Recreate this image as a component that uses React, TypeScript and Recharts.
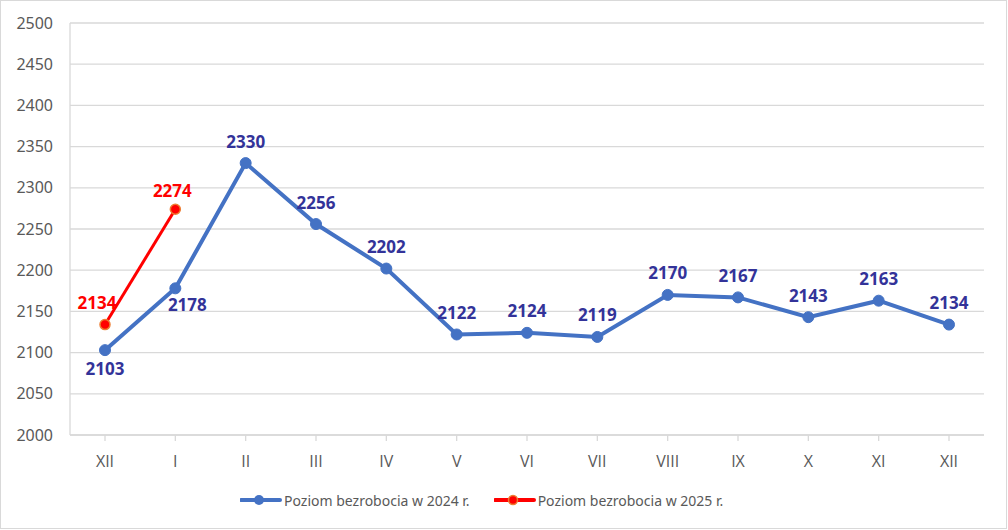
import React from 'react';
import { LineChart, Line, XAxis, YAxis, CartesianGrid } from 'recharts';

const months = ['XII', 'I', 'II', 'III', 'IV', 'V', 'VI', 'VII', 'VIII', 'IX', 'X', 'XI', 'XII'];
const level2024 = [2103, 2178, 2330, 2256, 2202, 2122, 2124, 2119, 2170, 2167, 2143, 2163, 2134];
const level2025: (number | null)[] = [2134, 2274, null, null, null, null, null, null, null, null, null, null, null];
const yTicks = [2000, 2050, 2100, 2150, 2200, 2250, 2300, 2350, 2400, 2450, 2500];
const seriesNames = ['Poziom bezrobocia w 2024 r.', 'Poziom bezrobocia w 2025 r.'];

const data = months.map((m, i) => ({ idx: i, month: m, a: level2024[i], b: level2025[i] }));

const FONT = '"Noto Sans", "Open Sans", sans-serif';
const BLUE = '#4472C4';
const RED = '#FF0000';
const LABEL_BLUE = '#333399';

const BlueLabel = (props: any) => {
  const { x, y, value, index } = props;
  if (value == null) return null;
  let dx = 0;
  let dy = -22;
  if (index === 0) { dx = 0; dy = 18; }
  if (index === 1) { dx = 12; dy = 16; }
  return (
    <text x={x + dx} y={y + dy} textAnchor="middle" dominantBaseline="central"
      fill={LABEL_BLUE} fontFamily={FONT} fontSize={17} fontWeight="bold">{value}</text>
  );
};

const RedLabel = (props: any) => {
  const { x, y, value, index } = props;
  if (value == null) return null;
  let dx = -3;
  let dy = -19;
  if (index === 0) { dx = -8; dy = -22; }
  return (
    <text x={x + dx} y={y + dy} textAnchor="middle" dominantBaseline="central"
      fill={RED} fontFamily={FONT} fontSize={17} fontWeight="bold">{value}</text>
  );
};

export default function App() {
  return (
    <div style={{ position: 'absolute', left: 0, top: 0, width: 1008, height: 530, background: '#fff' }}>
      <div style={{ position: 'absolute', left: 0, top: 0, width: 1005, height: 527, border: '1px solid #d9d9d9' }} />
      <div style={{ position: 'absolute', left: 0, top: 0 }}>
        <LineChart width={1008} height={530} data={data} margin={{ top: 23, right: 24, bottom: 65, left: 0 }}>
          <CartesianGrid vertical={false} stroke="#d9d9d9" strokeWidth={1.3} />
          <XAxis dataKey="idx" type="category" padding={{ left: 35, right: 35 }} height={30}
            tickFormatter={(v: any) => months[v as number]}
            axisLine={{ stroke: '#d9d9d9', strokeWidth: 1.3 }}
            tickLine={{ stroke: '#d9d9d9', strokeWidth: 1.3 }} tickSize={6} tickMargin={15}
            tick={{ fill: '#595959', fontSize: 16, fontFamily: '"Open Sans", sans-serif' }} interval={0} />
          <YAxis domain={[2000, 2500]} ticks={yTicks} width={70}
            axisLine={{ stroke: '#d9d9d9', strokeWidth: 1.3 }} tickLine={false} tickSize={0} tickMargin={17}
            tick={{ fill: '#595959', fontSize: 16, fontFamily: FONT }} />
          <Line dataKey="a" stroke={BLUE} strokeWidth={4} isAnimationActive={false}
            dot={{ r: 5.5, fill: BLUE, stroke: BLUE, strokeWidth: 1 }} activeDot={false}
            label={<BlueLabel />} />
          <Line dataKey="b" stroke={RED} strokeWidth={3} isAnimationActive={false}
            dot={{ r: 5, fill: RED, stroke: '#ED7D31', strokeWidth: 1.5 }} activeDot={false}
            label={<RedLabel />} />
        </LineChart>
      </div>
      <div style={{ position: 'absolute', left: 240, top: 489, display: 'flex', alignItems: 'center',
        fontFamily: FONT, fontSize: 14, color: '#595959', whiteSpace: 'nowrap' }}>
        <svg width={42} height={22} style={{ marginRight: 2 }}>
          <line x1={1} y1={11} x2={40} y2={11} stroke={BLUE} strokeWidth={4} strokeLinecap="round" />
          <circle cx={19} cy={11} r={5} fill={BLUE} />
        </svg>
        <span>{seriesNames[0]}</span>
        <svg width={42} height={22} style={{ marginLeft: 24, marginRight: 2 }}>
          <line x1={1} y1={11} x2={40} y2={11} stroke={RED} strokeWidth={4} strokeLinecap="round" />
          <circle cx={19} cy={11} r={4.5} fill={RED} stroke="#ED7D31" strokeWidth={1.5} />
        </svg>
        <span>{seriesNames[1]}</span>
      </div>
    </div>
  );
}
